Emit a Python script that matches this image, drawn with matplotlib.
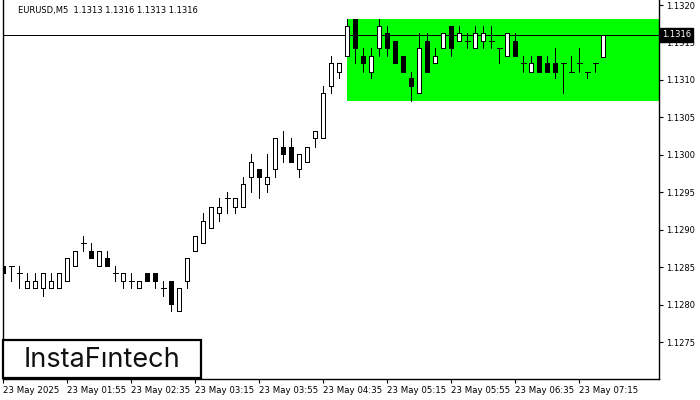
# EURUSD M5 candlestick chart with a green price channel (MT4 look)

import matplotlib
matplotlib.use("Agg")
import matplotlib.pyplot as plt
from matplotlib.patches import Rectangle

# ----------------- DATA -----------------
opens = [1.12852, 1.12852, 1.12842, 1.12822, 1.12822, 1.12822, 1.12822, 1.12822,
         1.12832, 1.12852, 1.12882, 1.12872, 1.12852, 1.12862, 1.12842, 1.12832,
         1.12832, 1.12822, 1.12842, 1.12842, 1.12822, 1.12832, 1.12791, 1.12832,
         1.12872, 1.12882, 1.12902, 1.12922, 1.12942, 1.12931, 1.12931, 1.12971,
         1.12981, 1.12961, 1.12981, 1.13011, 1.13011, 1.12981, 1.12991, 1.13022,
         1.13022, 1.13092, 1.13111, 1.13132, 1.13182, 1.13132, 1.13111, 1.13142,
         1.13162, 1.13152, 1.13132, 1.13102, 1.13082, 1.13152, 1.13122, 1.13142,
         1.13172, 1.13152, 1.13152, 1.13142, 1.13152, 1.13152, 1.13142, 1.13132,
         1.13152, 1.13122, 1.13111, 1.13132, 1.13122, 1.13122, 1.13122, 1.13111,
         1.13122, 1.13111, 1.13122, 1.13130]
highs = [1.12872, 1.12852, 1.12852, 1.12842, 1.12842, 1.12842, 1.12842, 1.12842,
         1.12862, 1.12872, 1.12891, 1.12882, 1.12872, 1.12872, 1.12852, 1.12842,
         1.12842, 1.12832, 1.12842, 1.12842, 1.12832, 1.12832, 1.12822, 1.12862,
         1.12891, 1.12922, 1.12931, 1.12942, 1.12951, 1.12942, 1.12971, 1.13001,
         1.12981, 1.13001, 1.13022, 1.13032, 1.13022, 1.13001, 1.13011, 1.13032,
         1.13092, 1.13132, 1.13122, 1.13182, 1.13182, 1.13142, 1.13142, 1.13182,
         1.13172, 1.13152, 1.13132, 1.13111, 1.13162, 1.13162, 1.13142, 1.13162,
         1.13172, 1.13172, 1.13162, 1.13172, 1.13172, 1.13172, 1.13142, 1.13162,
         1.13162, 1.13132, 1.13132, 1.13132, 1.13132, 1.13142, 1.13122, 1.13132,
         1.13142, 1.13111, 1.13122, 1.13160]
lows = [1.12832, 1.12832, 1.12822, 1.12822, 1.12822, 1.12812, 1.12822, 1.12822,
        1.12832, 1.12852, 1.12872, 1.12862, 1.12852, 1.12852, 1.12832, 1.12822,
        1.12822, 1.12822, 1.12832, 1.12822, 1.12812, 1.12791, 1.12791, 1.12822,
        1.12872, 1.12882, 1.12902, 1.12911, 1.12922, 1.12922, 1.12931, 1.12951,
        1.12942, 1.12951, 1.12971, 1.12991, 1.12991, 1.12971, 1.12991, 1.13011,
        1.13022, 1.13082, 1.13102, 1.13132, 1.13122, 1.13111, 1.13102, 1.13132,
        1.13132, 1.13122, 1.13111, 1.13072, 1.13082, 1.13111, 1.13122, 1.13142,
        1.13132, 1.13152, 1.13142, 1.13142, 1.13142, 1.13142, 1.13122, 1.13132,
        1.13132, 1.13111, 1.13111, 1.13111, 1.13111, 1.13102, 1.13082, 1.13111,
        1.13111, 1.13102, 1.13111, 1.13130]
closes = [1.12842, 1.12852, 1.12842, 1.12832, 1.12832, 1.12842, 1.12832, 1.12842,
          1.12862, 1.12872, 1.12882, 1.12862, 1.12872, 1.12852, 1.12842, 1.12842,
          1.12832, 1.12832, 1.12832, 1.12832, 1.12822, 1.12801, 1.12822, 1.12862,
          1.12891, 1.12911, 1.12931, 1.12931, 1.12942, 1.12942, 1.12961, 1.12991,
          1.12971, 1.12971, 1.13022, 1.13001, 1.12991, 1.13001, 1.13011, 1.13032,
          1.13082, 1.13122, 1.13122, 1.13172, 1.13142, 1.13122, 1.13132, 1.13172,
          1.13142, 1.13122, 1.13111, 1.13092, 1.13142, 1.13111, 1.13132, 1.13162,
          1.13142, 1.13162, 1.13152, 1.13162, 1.13162, 1.13152, 1.13142, 1.13162,
          1.13132, 1.13122, 1.13122, 1.13111, 1.13111, 1.13111, 1.13122, 1.13111,
          1.13122, 1.13111, 1.13122, 1.13160]

time_labels = ["23 May 2025", "23 May 01:55", "23 May 02:35", "23 May 03:15",
               "23 May 03:55", "23 May 04:35", "23 May 05:15", "23 May 05:55",
               "23 May 06:35", "23 May 07:15"]
price_ticks = [1.1275, 1.1280, 1.1285, 1.1290, 1.1295, 1.1300,
               1.1305, 1.1310, 1.1315, 1.1320]

zone_start = 43          # candle where the green channel begins
zone_low = 1.13072
zone_high = 1.13182
last_price = 1.1316
title = "EURUSD,M5  1.1313 1.1316 1.1313 1.1316"

# ----------------- FIGURE -----------------
plt.rcParams["font.family"] = "DejaVu Sans"
fig = plt.figure(figsize=(7, 4), dpi=100)
ax = fig.add_axes([3 / 700, 21 / 400, 656 / 700, 379 / 400])

px = 0.72  # one pixel in points
n = len(opens)
xs = list(range(n))

# green channel
ax.add_patch(Rectangle((zone_start, zone_low), n + 20 - zone_start,
                       zone_high - zone_low, facecolor="#00ff00",
                       edgecolor="none", zorder=1))

# last price line
ax.axhline(last_price, color="black", lw=px, zorder=2, antialiased=False)

# wicks
ax.vlines(xs, lows, highs, color="black", lw=px, zorder=3, antialiased=False)

# bodies
for i in xs:
    o, c = opens[i], closes[i]
    if o == c:
        ax.hlines(o, i - 0.3, i + 0.3, color="black", lw=px, zorder=4,
                  antialiased=False)
        continue
    face = "white" if c > o else "black"
    ax.bar(i, abs(c - o), bottom=min(o, c), width=0.5, facecolor=face,
           edgecolor="black", linewidth=px, zorder=4, antialiased=False)

ax.set_xlim(-0.04, 81.96)
ax.set_ylim(1.127007, 1.132067)

# axes styling
ax.spines["top"].set_visible(False)
for s in ["left", "right", "bottom"]:
    ax.spines[s].set_linewidth(1.0)
ax.yaxis.tick_right()
ax.set_yticks(price_ticks, [f"{p:.4f}" for p in price_ticks])
ax.tick_params(axis="y", length=3, width=0.8, pad=2, labelsize=6)
ax.set_xticks(list(range(0, n, 8)), time_labels)
ax.tick_params(axis="x", length=3, width=0.8, pad=2, labelsize=6.2)
for lbl in ax.get_xticklabels():
    lbl.set_horizontalalignment("left")

# price tag on the right axis
ax.annotate(f"{last_price:.4f}", xy=(1.0, last_price),
            xycoords=("axes fraction", "data"), xytext=(2, 0),
            textcoords="offset points", va="center", ha="left",
            fontsize=6, color="white", zorder=10, annotation_clip=False,
            bbox=dict(boxstyle="square,pad=0.25", facecolor="black",
                      edgecolor="black"))

# title
fig.text(18 / 700, 1 - 11 / 400, title, fontsize=6, va="center", ha="left")

# logo box
fig.add_artist(Rectangle((3 / 700, 22 / 400), 198 / 700, 38 / 400,
                         transform=fig.transFigure, facecolor="white",
                         edgecolor="black", linewidth=1.6, zorder=20))
fig.text(102 / 700, 1 - 360 / 400, "InstaF\u0131ntech", fontsize=19.5,
         family="Inter", ha="center", va="center",
         color="#111111", zorder=21)

fig.savefig("out.png", dpi=100)
